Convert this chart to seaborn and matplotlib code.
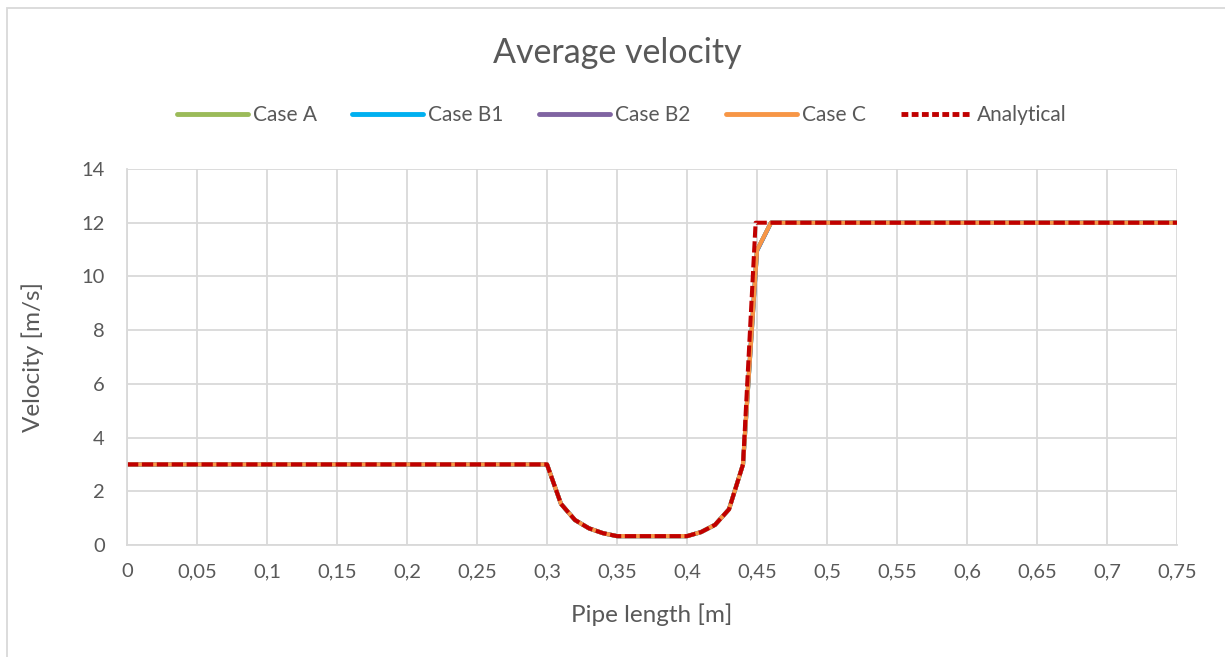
import matplotlib
matplotlib.use("Agg")
import matplotlib.pyplot as plt
import seaborn as sns
import pandas as pd
from matplotlib.patches import Rectangle
from matplotlib.lines import Line2D

# Sample positions along the pipe [m]
x_num = [0.00, 0.05, 0.10, 0.15, 0.20, 0.25, 0.30, 0.31, 0.32, 0.33, 0.34,
         0.35, 0.36, 0.37, 0.38, 0.39, 0.40, 0.41, 0.42, 0.43, 0.44, 0.45,
         0.46, 0.50, 0.55, 0.60, 0.65, 0.70, 0.75]

# Simulated average velocities [m/s]
case_a = [3.0, 3.0, 3.0, 3.0, 3.0, 3.0, 3.0, 1.53, 0.93, 0.62, 0.44,
          0.33, 0.33, 0.33, 0.33, 0.33, 0.33, 0.48, 0.75, 1.33, 3.0, 10.98,
          12.0, 12.0, 12.0, 12.0, 12.0, 12.0, 12.0]
case_b1 = [3.0, 3.0, 3.0, 3.0, 3.0, 3.0, 3.0, 1.53, 0.93, 0.62, 0.44,
           0.33, 0.33, 0.33, 0.33, 0.33, 0.33, 0.48, 0.75, 1.33, 3.0, 10.95,
           12.0, 12.0, 12.0, 12.0, 12.0, 12.0, 12.0]
case_b2 = [3.0, 3.0, 3.0, 3.0, 3.0, 3.0, 3.0, 1.53, 0.93, 0.62, 0.44,
           0.33, 0.33, 0.33, 0.33, 0.33, 0.33, 0.48, 0.75, 1.33, 3.0, 10.96,
           12.0, 12.0, 12.0, 12.0, 12.0, 12.0, 12.0]
case_c = [3.0, 3.0, 3.0, 3.0, 3.0, 3.0, 3.0, 1.53, 0.93, 0.62, 0.44,
          0.33, 0.33, 0.33, 0.33, 0.33, 0.33, 0.48, 0.75, 1.33, 3.0, 10.98,
          12.0, 12.0, 12.0, 12.0, 12.0, 12.0, 12.0]

# Analytical solution
x_ana = [0.00, 0.05, 0.10, 0.15, 0.20, 0.25, 0.30, 0.31, 0.32, 0.33, 0.34,
         0.35, 0.36, 0.37, 0.38, 0.39, 0.40, 0.41, 0.42, 0.43, 0.44, 0.449,
         0.45, 0.50, 0.55, 0.60, 0.65, 0.70, 0.75]
analytical = [3.0, 3.0, 3.0, 3.0, 3.0, 3.0, 3.0, 1.53, 0.93, 0.62, 0.44,
              0.33, 0.33, 0.33, 0.33, 0.33, 0.33, 0.48, 0.75, 1.33, 3.0, 12.0,
              12.0, 12.0, 12.0, 12.0, 12.0, 12.0, 12.0]

series_names = ["Case A", "Case B1", "Case B2", "Case C"]
series_values = [case_a, case_b1, case_b2, case_c]
series_colors = ["#9BBB59", "#00B0F0", "#8064A2", "#F79646"]

x_ticks = [0, 0.05, 0.1, 0.15, 0.2, 0.25, 0.3, 0.35, 0.4, 0.45, 0.5,
           0.55, 0.6, 0.65, 0.7, 0.75]
y_ticks = [0, 2, 4, 6, 8, 10, 12, 14]

sns.set_theme(style="white")
plt.rcParams["font.family"] = ["Lato", "DejaVu Sans"]

text_color = "#595959"
grid_color = "#D9D9D9"

fig = plt.figure(figsize=(12.25, 6.57), dpi=100)
ax = fig.add_axes([127 / 1225, 1 - 545 / 657, (1177 - 127) / 1225, (545 - 169) / 657])

frames = []
for name, vals in zip(series_names, series_values):
    frames.append(pd.DataFrame({"x": x_num, "v": vals, "series": name}))
df = pd.concat(frames, ignore_index=True)

sns.lineplot(data=df, x="x", y="v", hue="series", hue_order=series_names,
             palette=series_colors, linewidth=3.0, ax=ax, legend=False,
             estimator=None, sort=False)
ana_df = pd.DataFrame({"x": x_ana, "v": analytical})
sns.lineplot(data=ana_df, x="x", y="v", color="#C00000", linewidth=2.9,
             ax=ax, legend=False, estimator=None, sort=False,
             linestyle=(0, (2.8, 0.9)))

ax.set_xlim(0, 0.75)
ax.set_ylim(0, 14)
ax.set_xticks(x_ticks)
ax.set_yticks(y_ticks)
ax.set_xticklabels([("%g" % t).replace(".", ",") for t in x_ticks])
ax.set_yticklabels([str(t) for t in y_ticks])
ax.tick_params(axis="both", length=0, labelsize=14.5, colors=text_color)
ax.tick_params(axis="x", pad=13)
ax.tick_params(axis="y", pad=16)
ax.grid(True, color=grid_color, linewidth=1.3)
ax.set_axisbelow(True)
for side in ["top", "right"]:
    ax.spines[side].set_visible(False)
for side in ["left", "bottom"]:
    ax.spines[side].set_color(grid_color)
    ax.spines[side].set_linewidth(1.3)

ax.set_xlabel("Pipe length [m]", fontsize=17.5, color=text_color, va="center")
ax.set_ylabel("Velocity [m/s]", fontsize=17.5, color=text_color, va="center")
ax.xaxis.set_label_coords(0.5, (545 - 615) / 376)
ax.yaxis.set_label_coords((33 - 127) / 1050, (545 - 357) / 376)

fig.text(617 / 1225, 1 - 53 / 657, "Average velocity", ha="center", va="center",
         fontsize=24.5, color=text_color)

# Legend in one row above the plot
handles = [Line2D([], [], color=c, linewidth=3.5) for c in series_colors]
handles.append(Line2D([], [], color="#C00000", linewidth=3.5, linestyle=(0, (1.4, 0.7))))
labels = series_names + ["Analytical"]
fig.legend(handles, labels, loc="center", bbox_to_anchor=(622 / 1225, 1 - 115 / 657),
           ncol=5, frameon=False, fontsize=15, handlelength=3.4, handletextpad=0.25,
           columnspacing=1.7, labelcolor=text_color)

# Chart area border
fig.patches.append(Rectangle((7 / 1225, -0.05), 1.2, 1 - 8 / 657 + 0.05,
                             transform=fig.transFigure, fill=False,
                             edgecolor=grid_color, linewidth=1.3))

fig.savefig("out.png", dpi=100, facecolor="white")
